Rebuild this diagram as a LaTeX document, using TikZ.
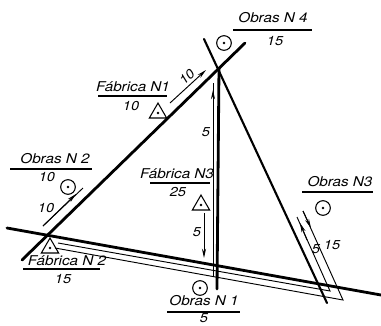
\documentclass[tikz,border=0pt]{standalone}
\usepackage{fontspec}
\setmainfont[FakeStretch=1.13]{TeX Gyre Heros}
\usetikzlibrary{arrows.meta,positioning,shapes.geometric}

\tikzset{
  road/.style={line width=2.4pt, line cap=round},
  haul/.style={line width=0.8pt},
  flow/.style={line width=0.8pt, -{Stealth[length=8pt,width=3.5pt]}},
  rulebar/.style={line width=1pt},
  place/.style={font=\itshape\fontsize{11.5}{13}\selectfont, inner sep=1pt},
  qty/.style={font=\itshape\fontsize{11}{12}\selectfont, inner sep=0pt},
  obra/.style={circle, draw, line width=0.9pt, minimum size=12.5pt, inner sep=0pt},
  fabrica/.style={regular polygon, regular polygon sides=3, draw, line width=0.9pt, minimum size=17pt, inner sep=0pt},
  spot/.style={circle, fill, minimum size=2.5pt, inner sep=0pt}
}

\begin{document}
\begin{tikzpicture}[x=0.03cm, y=-0.03cm]
  \useasboundingbox (0,0) rectangle (381,325);

  % Roads
  \coordinate (a1) at (22,260);
  \coordinate (a2) at (245,43);
  \coordinate (b1) at (7,228);
  \coordinate (b2) at (381,295);
  \coordinate (c1) at (219,68);
  \coordinate (c2) at (217,289);
  \coordinate (d1) at (204,39);
  \coordinate (d2) at (327,303);
  \draw[road] (a1) -- (a2);
  \draw[road] (b1) -- (b2);
  \draw[road] (c1) -- (c2);
  \draw[road, line width=1.8pt] (d1) -- (d2);

  % Haul lines along the roads
  \coordinate (h1) at (58,243);
  \coordinate (h2) at (330,291);
  \coordinate (h3) at (297,217);
  \coordinate (h4) at (55,248);
  \coordinate (h5) at (343,300);
  \coordinate (h6) at (303,211);
  \coordinate (h7) at (213,277);
  \coordinate (h8) at (213,83);
  \draw[haul] (h1) -- (h2) -- (h3);
  \draw[haul] (h4) -- (h5) -- (h6);
  \draw[haul] (h7) -- (h8);

  % Flow arrows
  \coordinate (f1) at (43,226);
  \coordinate (f2) at (76,194);
  \coordinate (f3) at (83,188);
  \draw[haul] (f1) -- (f3);
  \draw[flow] (f1) -- (f2);
  \coordinate (g1) at (170,103);
  \coordinate (g2) at (206,70);
  \draw[flow] (g1) -- (g2);
  \coordinate (k1) at (204,213);
  \coordinate (k2) at (204,258);
  \draw[flow] (k1) -- (k2);
  \coordinate (m1) at (213,110);
  \coordinate (m2) at (213,90);
  \draw[flow] (m1) -- (m2);
  \coordinate (n1) at (307,240);
  \coordinate (n2) at (300,223);
  \draw[flow] (n1) -- (n2);
  \coordinate (p1) at (303,211);
  \coordinate (p2) at (311,228);
  \draw[flow] (p1) -- (p2);

  % Works and factories
  \node[obra] (ob1) at (200,288) {};
  \node[spot] at (ob1) {};
  \node[obra] (ob2) at (68,187) {};
  \node[spot] at (ob2) {};
  \node[obra] (ob3) at (323,208) {};
  \node[spot] at (ob3) {};
  \node[obra] (ob4) at (224,43) {};
  \node[spot] at (ob4) {};
  \node[fabrica] (fa1) at (158,113) {};
  \node[spot] at (fa1) {};
  \node[fabrica] (fa2) at (50,248) {};
  \node[spot] at (fa2) {};
  \node[fabrica] (fa3) at (201,205) {};
  \node[spot] at (fa3) {};

  % Labels
  \node[place] (lob4) at (273,18) {Obras N 4};
  \draw[rulebar] (233,30) -- (312,30);
  \node[qty] (qob4) at (275,41) {15};
  \node[place] (lfa1) at (133,87) {Fábrica N1};
  \draw[rulebar] (98,96) -- (167,96);
  \node[qty] (qfa1) at (131,106) {10};
  \node[place] (lob2) at (55,159) {Obras N 2};
  \draw[rulebar] (10,169) -- (92,169);
  \node[qty] (qob2) at (47,177) {10};
  \node[place] (lfa3) at (177,174) {Fábrica N3};
  \draw[rulebar] (150,183) -- (210,183);
  \node[qty] (qfa3) at (178,192) {25};
  \node[place] (lfa2) at (67,261) {Fábrica N 2};
  \draw[rulebar] (23,269) -- (100,269);
  \node[qty] (qfa2) at (63,279) {15};
  \node[place] (lob1) at (204,301) {Obras N 1};
  \draw[rulebar] (167,312) -- (240,312);
  \node[qty] (qob1) at (204,318) {5};
  \node[place] (lob3) at (340,182) {Obras N3};
  \draw[rulebar] (302,192) -- (373,192);

  % Flow quantities
  \node[qty, rotate=45] (q10a) at (187,77) {10};
  \node[qty] (q10b) at (46,208) {10};
  \node[qty] (q5a) at (206,132) {5};
  \node[qty] (q5b) at (197,232) {5};
  \node[qty] (q5c) at (316,249) {5};
  \node[qty] (q15) at (332,245) {15};
\end{tikzpicture}
\end{document}
